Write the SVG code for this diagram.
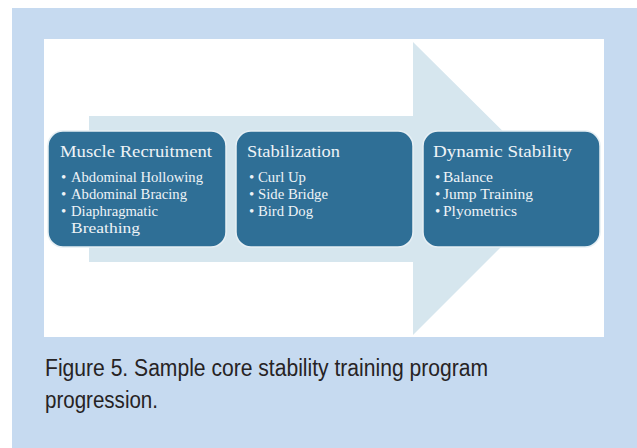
<svg xmlns="http://www.w3.org/2000/svg" width="637" height="448" viewBox="0 0 637 448">
  <style>
    .box { fill: #2f6f96; stroke: #e6eff4; stroke-width: 1.5; }
    .title { font-family: "Liberation Serif", "Times New Roman", serif; font-size: 17.5px; fill: #eef3f6; }
    .item { font-family: "Liberation Serif", "Times New Roman", serif; font-size: 15px; fill: #eef3f6; }
    .cap { font-family: "Liberation Sans Narrow", "Liberation Sans", Arial, sans-serif; font-size: 23.5px; fill: #262324; }
  </style>
  <rect x="0" y="0" width="637" height="448" fill="#ffffff"/>
  <rect x="12" y="8" width="625" height="440" fill="#c6daf0"/>
  <rect x="44" y="39" width="560" height="298" fill="#ffffff"/>
  <g id="connectors">
    <polygon points="89,116 413,116 413,42 560,188 413,335 413,262 89,262" fill="#d6e6ee"/>
  </g>
  <g id="node-muscle-recruitment">
    <rect class="box" x="48" y="131" width="178" height="116" rx="15" ry="15"/>
    <text class="title" x="60" y="157" textLength="152" lengthAdjust="spacingAndGlyphs">Muscle Recruitment</text>
    <text class="item" x="61" y="182">•</text>
    <text class="item" x="71" y="182" textLength="132" lengthAdjust="spacingAndGlyphs">Abdominal Hollowing</text>
    <text class="item" x="61" y="199">•</text>
    <text class="item" x="71" y="199" textLength="116" lengthAdjust="spacingAndGlyphs">Abdominal Bracing</text>
    <text class="item" x="61" y="216">•</text>
    <text class="item" x="71" y="216" textLength="87" lengthAdjust="spacingAndGlyphs">Diaphragmatic</text>
    <text class="item" x="71" y="233" textLength="69" lengthAdjust="spacingAndGlyphs">Breathing</text>
  </g>
  <g id="node-stabilization">
    <rect class="box" x="236" y="131" width="177" height="116" rx="15" ry="15"/>
    <text class="title" x="247" y="157" textLength="93" lengthAdjust="spacingAndGlyphs">Stabilization</text>
    <text class="item" x="249" y="182">•</text>
    <text class="item" x="258" y="182" textLength="48" lengthAdjust="spacingAndGlyphs">Curl Up</text>
    <text class="item" x="249" y="199">•</text>
    <text class="item" x="258" y="199" textLength="70" lengthAdjust="spacingAndGlyphs">Side Bridge</text>
    <text class="item" x="249" y="216">•</text>
    <text class="item" x="258" y="216" textLength="55" lengthAdjust="spacingAndGlyphs">Bird Dog</text>
  </g>
  <g id="node-dynamic-stability">
    <rect class="box" x="423" y="131" width="177" height="116" rx="15" ry="15"/>
    <text class="title" x="433" y="157" textLength="139" lengthAdjust="spacingAndGlyphs">Dynamic Stability</text>
    <text class="item" x="435" y="182">•</text>
    <text class="item" x="443" y="182" textLength="50" lengthAdjust="spacingAndGlyphs">Balance</text>
    <text class="item" x="435" y="199">•</text>
    <text class="item" x="443" y="199" textLength="90" lengthAdjust="spacingAndGlyphs">Jump Training</text>
    <text class="item" x="435" y="216">•</text>
    <text class="item" x="443" y="216" textLength="74" lengthAdjust="spacingAndGlyphs">Plyometrics</text>
  </g>
  <text class="cap" x="45" y="376" textLength="443" lengthAdjust="spacingAndGlyphs">Figure 5. Sample core stability training program</text>
  <text class="cap" x="45" y="408" textLength="113" lengthAdjust="spacingAndGlyphs">progression.</text>
</svg>
